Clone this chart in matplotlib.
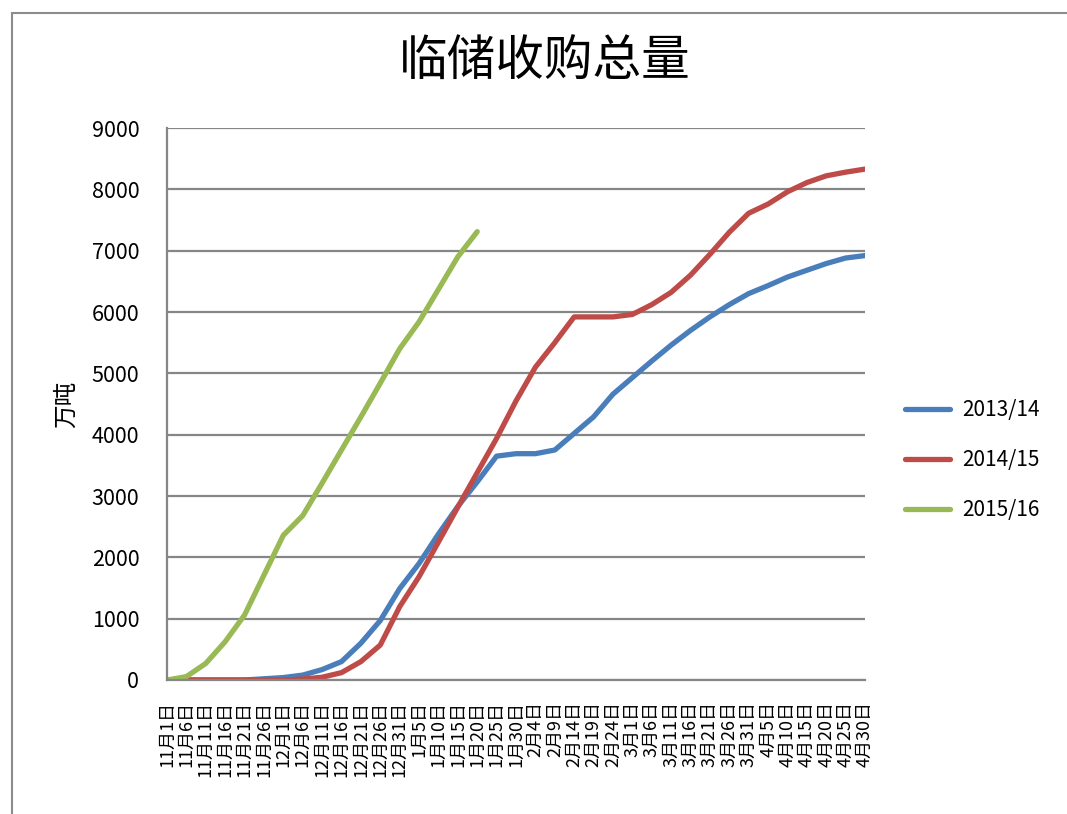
import matplotlib.pyplot as plt
from matplotlib.patches import Rectangle

plt.rcParams['font.family'] = ['Noto Sans CJK SC', 'DejaVu Sans']

dates = ['11月1日', '11月6日', '11月11日', '11月16日', '11月21日', '11月26日',
         '12月1日', '12月6日', '12月11日', '12月16日', '12月21日', '12月26日',
         '12月31日', '1月5日', '1月10日', '1月15日', '1月20日', '1月25日',
         '1月30日', '2月4日', '2月9日', '2月14日', '2月19日', '2月24日',
         '3月1日', '3月6日', '3月11日', '3月16日', '3月21日', '3月26日',
         '3月31日', '4月5日', '4月10日', '4月15日', '4月20日', '4月25日',
         '4月30日']

s2013 = [0, 0, 0, 0, 0, 20, 40, 80, 170, 300, 600, 970, 1490, 1900, 2380,
         2830, 3230, 3650, 3690, 3690, 3750, 4020, 4290, 4660, 4930, 5200,
         5460, 5700, 5920, 6120, 6300, 6430, 6570, 6680, 6790, 6880, 6920]
s2014 = [0, 0, 0, 0, 0, 0, 0, 15, 45, 120, 300, 570, 1195, 1685, 2250,
         2820, 3380, 3940, 4550, 5100, 5500, 5920, 5920, 5920, 5960, 6120,
         6320, 6600, 6940, 7300, 7610, 7760, 7960, 8110, 8220, 8280, 8330]
s2015 = [0, 55, 270, 625, 1060, 1710, 2360, 2680, 3210, 3750, 4290, 4840,
         5400, 5840, 6370, 6900, 7310]

series = [('2013/14', s2013, '#4A7EBB'),
          ('2014/15', s2014, '#BE4B48'),
          ('2015/16', s2015, '#98B954')]

fig = plt.figure(figsize=(10.67, 8.14), dpi=100)
fig.patches.append(Rectangle((12 / 1067, -0.05), 1.1, 1 - 13 / 814 + 0.05,
                             transform=fig.transFigure, fill=False,
                             edgecolor='#8c8c8c', linewidth=1.5))
ax = fig.add_axes([167 / 1067, 1 - 680 / 814, 698 / 1067, 552 / 814])

for name, vals, color in series:
    ax.plot(range(len(vals)), vals, color=color, linewidth=3.8, label=name,
            solid_capstyle='round', solid_joinstyle='round')

ax.set_xlim(0, len(dates) - 1)
ax.set_ylim(0, 9000)
ax.set_yticks(range(0, 9001, 1000))
ax.set_xticks(range(len(dates)))
ax.set_xticklabels(dates, rotation=90, fontsize=13, va='top')
ax.tick_params(axis='y', labelsize=15.5, length=0, pad=20)
ax.tick_params(axis='x', length=0, pad=15)
ax.grid(axis='y', color='#868686', linewidth=1.6)
ax.set_axisbelow(True)
for side in ['top', 'right']:
    ax.spines[side].set_visible(False)
ax.spines['left'].set_color('#868686')
ax.spines['left'].set_linewidth(1.6)
ax.spines['bottom'].set_color('#868686')
ax.spines['bottom'].set_linewidth(1.6)

ax.set_ylabel('万吨', fontsize=17, labelpad=10)
fig.text(545 / 1067, 1 - 62 / 814, '临储收购总量', fontsize=35,
         ha='center', va='center', fontweight='medium')

ax.legend(loc='center left', bbox_to_anchor=(1.057, 0.3986), frameon=False,
          fontsize=15, handlelength=2.15, labelspacing=1.35, handletextpad=0.6,
          borderpad=0, borderaxespad=0)

fig.savefig('out.png', dpi=100)
